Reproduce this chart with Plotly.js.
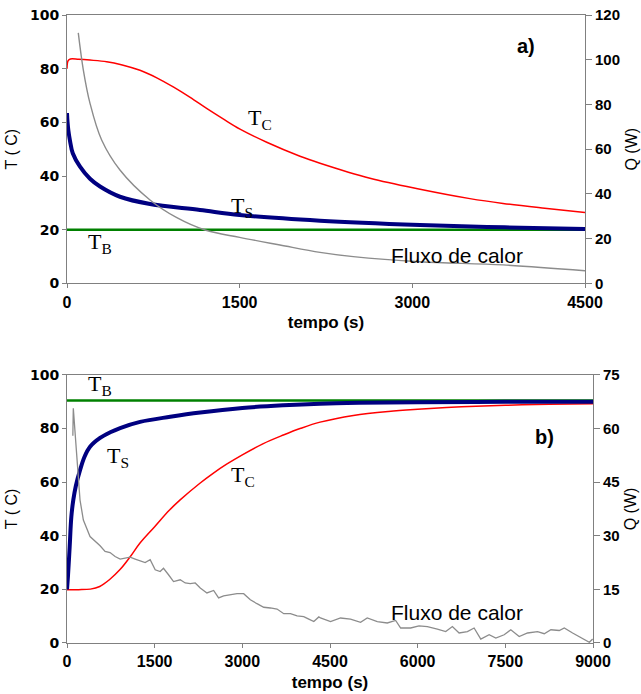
<!DOCTYPE html>
<html>
<head>
<meta charset="utf-8">
<script src="https://cdn.plot.ly/plotly-3.0.1.min.js"></script>
<style>html,body{margin:0;padding:0;background:#fff}#chart{width:641px;height:694px}</style>
</head>
<body>
<div id="chart"></div>
<script>
// ---------- (a) cooling ----------
const tcA_t = [0, 10, 30, 100, 200, 345, 480, 634, 780, 923, 1070, 1213, 1360, 1503, 1735, 2024, 2198, 2632, 3067, 3500, 3788, 4150, 4500];
const tcA   = [80, 83, 83.6, 83.5, 83.2, 82.6, 81.4, 79.4, 76.6, 73.2, 69.3, 65.2, 61.2, 57.5, 52.6, 47.4, 44.8, 39.2, 35.1, 31.6, 29.8, 28, 26.4];
const tsA_t = [0, 5, 12, 25, 50, 113, 200, 287, 460, 721, 1155, 1500, 2198, 3067, 3800, 4500];
const tsA   = [63.5, 60, 57, 53.4, 48.5, 43.5, 39, 36.1, 32.3, 29.6, 27.4, 25.5, 23.4, 21.8, 20.9, 20.3];
const tbA_t = [0, 4500];
const tbA   = [20, 20];
const qA_t  = [98, 142, 200, 301, 460, 721, 950, 1199, 1500, 1850, 2198, 2487, 3067, 3788, 4500];
const qA    = [112, 95.4, 80.5, 64.1, 50.7, 37.3, 29.5, 23.9, 20.6, 17.2, 13.9, 12.0, 9.7, 8.3, 5.7];

// ---------- (b) heating ----------
const tcB_t = [0, 200, 400, 560, 730, 903, 1075, 1246, 1500, 1750, 1931, 2274, 2500, 2731, 3000, 3350, 3703, 4000, 4331, 4900, 5500, 6000, 6750, 7500, 8250, 9000];
const tcB   = [19.9, 19.9, 20.1, 21.1, 23.7, 27.3, 32, 37.2, 43.4, 49.5, 53.3, 59.6, 63.3, 66.7, 70.2, 74.3, 77.6, 80.1, 82.4, 84.9, 86.4, 87.2, 88.1, 88.7, 89.1, 89.3];
const tsB_t = [0, 17, 46, 74, 108, 150, 223, 300, 394, 566, 740, 909, 1251, 1766, 2280, 3000, 3700, 4331, 5000, 6000, 7500, 9000];
const tsB   = [20, 25, 36, 47, 53.4, 58.5, 64.5, 69.5, 73.2, 76.5, 78.6, 80.2, 82.5, 84.4, 86, 87.7, 88.7, 89.3, 89.6, 89.8, 90, 90];
const tbB_t = [0, 9000];
const tbB   = [90.5, 90.5];
const qB_t  = [100, 108, 160, 223, 280, 394, 566, 651, 737, 823, 909, 994, 1080, 1166, 1251, 1337, 1423, 1509, 1594, 1651, 1737, 1823, 1937, 2023, 2109, 2194, 2280, 2394, 2509, 2594, 2680, 2794, 2909, 3023, 3137, 3251, 3366, 3480, 3594, 3709, 3823, 3937, 4051, 4137, 4223, 4309, 4337, 4509, 4680, 4851, 5023, 5137, 5309, 5480, 5623, 5709, 5880, 6023, 6166, 6337, 6480, 6594, 6709, 6851, 6966, 7080, 7223, 7337, 7480, 7594, 7737, 7880, 8051, 8166, 8280, 8423, 8509, 8651, 8794, 8937, 8994];
const qB    = [58, 65.7, 54, 40, 34.4, 29.8, 27.2, 25.6, 25.3, 24.2, 23.5, 23.7, 24, 23.5, 23.1, 22.5, 23.3, 20.5, 20, 20.9, 19.1, 17.2, 17.7, 16.8, 16.6, 16.8, 15.4, 14, 14.7, 12.6, 13.2, 13.5, 13.8, 13.8, 12.1, 11, 10, 9.8, 9.5, 8.2, 8.2, 7.6, 7.4, 6.7, 6, 7.3, 7.0, 6.0, 7.0, 6.7, 5.8, 7.0, 6.0, 5.6, 6.3, 4.2, 4.2, 4.8, 4.6, 3.9, 3.2, 4.6, 2.8, 3.2, 4.2, 1.1, 2.3, 1.4, 2.3, 3.7, 1.8, 2.8, 3.2, 2.6, 3.7, 3.5, 4.2, 2.8, 1.4, 0.2, 1.1];

const xTicksA = [0, 1500, 3000, 4500];
const xTicksB = [0, 1500, 3000, 4500, 6000, 7500, 9000];
const yTicksT = [0, 20, 40, 60, 80, 100];
const yTicksQA = [0, 20, 40, 60, 80, 100, 120];
const yTicksQB = [0, 15, 30, 45, 60, 75];

const RED = '#ff0000', BLUE = '#000080', GREEN = '#008000', GRAY = '#8c8c8c';
const AX = '#808080';
const SM = {shape: 'spline', smoothing: 1};

const traces = [
  {x: tbA_t, y: tbA, xaxis: 'x', yaxis: 'y', mode: 'lines', line: {color: GREEN, width: 2.5}},
  {x: tcA_t, y: tcA, xaxis: 'x', yaxis: 'y', mode: 'lines', line: Object.assign({color: RED, width: 1.5}, SM)},
  {x: qA_t, y: qA, xaxis: 'x', yaxis: 'y2', mode: 'lines', line: Object.assign({color: GRAY, width: 1.4}, SM)},
  {x: tsA_t, y: tsA, xaxis: 'x', yaxis: 'y', mode: 'lines', line: Object.assign({color: BLUE, width: 4}, SM)},

  {x: tbB_t, y: tbB, xaxis: 'x2', yaxis: 'y3', mode: 'lines', line: {color: GREEN, width: 2.5}},
  {x: tcB_t, y: tcB, xaxis: 'x2', yaxis: 'y3', mode: 'lines', line: Object.assign({color: RED, width: 1.5}, SM)},
  {x: qB_t, y: qB, xaxis: 'x2', yaxis: 'y4', mode: 'lines', line: {color: GRAY, width: 1.3}},
  {x: tsB_t, y: tsB, xaxis: 'x2', yaxis: 'y3', mode: 'lines', line: Object.assign({color: BLUE, width: 4}, SM)}
];

const leftTick = {family: 'DejaVu Sans', size: 14, color: '#000', weight: 'bold'};
const narrowTick = {family: 'Liberation Sans Narrow, Arial Narrow, Liberation Sans', size: 16, color: '#000', weight: 'bold'};
const rightTick = {family: 'Liberation Sans Narrow, Arial Narrow, Liberation Sans', size: 15, color: '#000', weight: 'bold'};
const axTitleFont = {family: 'Liberation Sans, Arial', size: 16, color: '#000'};
const xTitleFont = {family: 'Liberation Sans Narrow, Arial Narrow, Liberation Sans', size: 17, color: '#000', weight: 'bold'};

function xAx(domain, range, ticks, anchor) {
  return {domain: domain, range: range, anchor: anchor, tickvals: ticks, ticktext: ticks.map(String),
    showgrid: false, zeroline: false, showline: true, linecolor: AX, linewidth: 1, mirror: true,
    ticks: 'outside', ticklen: 4, tickcolor: AX, tickfont: narrowTick,
    title: {text: 'tempo (s)', font: xTitleFont, standoff: 6}};
}
function yL(domain, anchor) {
  return {domain: domain, range: [0, 100], anchor: anchor, tickvals: yTicksT, showgrid: false, zeroline: false,
    showline: true, linecolor: AX, linewidth: 1, ticks: 'outside', ticklen: 4, tickcolor: AX, tickfont: leftTick,
    title: {text: 'T ( C)', font: axTitleFont, standoff: 8}};
}
function yR(range, ticks, over, anchor) {
  return {range: range, overlaying: over, anchor: anchor, side: 'right', tickvals: ticks, showgrid: false, zeroline: false,
    showline: true, linecolor: AX, linewidth: 1, ticks: 'outside', ticklen: 6, tickcolor: AX, tickfont: rightTick,
    title: {text: 'Q (W)', font: axTitleFont, standoff: 6}};
}

const W = 641, H = 694;
function ann(text, px, py, font) {
  return {text: text, xref: 'paper', yref: 'paper', showarrow: false, xanchor: 'center', yanchor: 'middle',
    x: (px - 67) / 526, y: (643 - py) / 628, font: font};
}
const serif = {family: 'Liberation Serif, Times New Roman', size: 22, color: '#000'};
const labelF = {family: 'Liberation Sans, Arial', size: 21, color: '#000'};
const panelF = {family: 'Liberation Sans, Arial', size: 20, color: '#000', weight: 'bold'};

const layout = {
  width: W, height: H, showlegend: false,
  paper_bgcolor: '#fff', plot_bgcolor: '#fff',
  margin: {l: 67, r: 48, t: 15, b: 51},
  xaxis: xAx([0, 0.98479], [0, 4500], xTicksA, 'y'),
  yaxis: yL([0.5725, 1], 'x'),
  yaxis2: yR([0, 120], yTicksQA, 'y', 'x'),
  xaxis2: xAx([0, 1], [0, 9000], xTicksB, 'y3'),
  yaxis3: yL([0, 0.4268], 'x2'),
  yaxis4: yR([0, 75], yTicksQB, 'y3', 'x2'),
  annotations: [
    ann('T<sub>C</sub>', 260, 119, serif),
    ann('T<sub>S</sub>', 242, 207, serif),
    ann('T<sub>B</sub>', 100, 243, serif),
    ann('a)', 526, 46, panelF),
    ann('Fluxo de calor', 457, 256, labelF),
    ann('T<sub>B</sub>', 100, 385, serif),
    ann('T<sub>S</sub>', 118, 457, serif),
    ann('T<sub>C</sub>', 243, 476, serif),
    ann('b)', 544, 437, panelF),
    ann('Fluxo de calor', 457, 612, labelF)
  ]
};

Plotly.newPlot('chart', traces, layout, {staticPlot: true, displayModeBar: false});
</script>
</body>
</html>
